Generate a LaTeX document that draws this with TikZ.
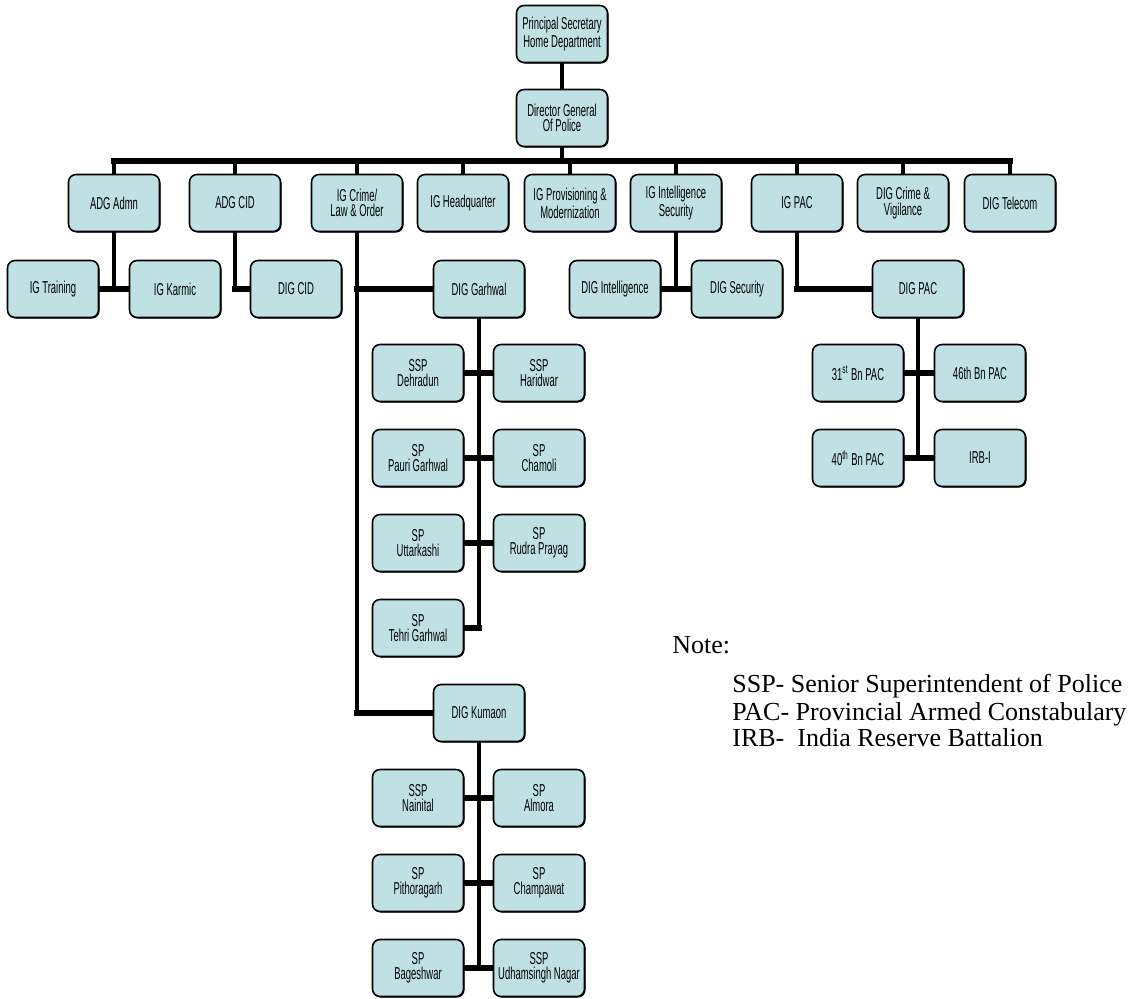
\documentclass[tikz,border=0pt]{standalone}
\usepackage{fontspec}
\setmainfont{Liberation Serif}
\newfontfamily\boxfont[FakeStretch=0.55]{Liberation Sans}
\usetikzlibrary{backgrounds,shadows}
\definecolor{boxfill}{RGB}{191,225,228}
\begin{document}
\begin{tikzpicture}[x=0.02cm,y=-0.02cm]
	\tikzset{b/.style={draw=black,line width=0.9pt,fill=boxfill,rounded corners=1.5mm,minimum width=1.82cm,minimum height=1.14cm,inner sep=1pt,align=center,font={\boxfont\fontsize{9.8}{8.6}\selectfont},drop shadow={shadow xshift=0.6pt,shadow yshift=-0.6pt,fill=black,opacity=1}},
		hl/.style={line width=3.8pt,line cap=rect},
		vl/.style={line width=2.4pt,line cap=rect},
		note/.style={anchor=base west,inner sep=0pt,font={\fontsize{14.8}{16}\selectfont}}}
	\useasboundingbox(0,0)rectangle(1142,998);
	% top of the chart
	\path(562,34)node[b](ps){Principal Secretary\\Home Department}
		(562,118)node[b](dg){Director General\\Of Police};
	\coordinate(bar)at(562,161);
	% first row
	\path(114,203)node[b](adgadmn){ADG Admn}
		(235,203)node[b](adgcid){ADG CID}
		(357,203)node[b](igcrime){IG Crime/\\Law \& Order}
		(463,203)node[b](ighq){IG Headquarter}
		(570,203)node[b](igprov){IG Provisioning \&\\Modernization}
		(676,203)node[b](igint){IG Intelligence\\Security}
		(797,203)node[b](igpac){IG PAC}
		(903,203)node[b](digcv){DIG Crime \&\\Vigilance}
		(1010,203)node[b](digtel){DIG Telecom};
	% second row
	\path(53,289)node[b](igtrain){IG Training}
		(175,289)node[b](igkarmic){IG Karmic}
		(296,289)node[b](digcid){DIG CID}
		(479,289)node[b](diggar){DIG Garhwal}
		(615,289)node[b](digint){DIG Intelligence}
		(737,289)node[b](digsec){DIG Security}
		(918,289)node[b](digpac){DIG PAC};
	% Garhwal districts
	\path(418,373)node[b](dehra){SSP\\Dehradun}
		(539,373)node[b](hari){SSP\\Haridwar}
		(418,458)node[b](pauri){SP\\Pauri Garhwal}
		(539,458)node[b](chamoli){SP\\Chamoli}
		(418,543)node[b](uttar){SP\\Uttarkashi}
		(539,543)node[b](rudra){SP\\Rudra Prayag}
		(418,628)node[b](tehri){SP\\Tehri Garhwal};
	% Kumaon districts
	\path(479,713)node[b](digkum){DIG Kumaon}
		(418,798)node[b](nain){SSP\\Nainital}
		(539,798)node[b](almora){SP\\Almora}
		(418,883)node[b](pith){SP\\Pithoragarh}
		(539,883)node[b](champ){SP\\Champawat}
		(418,968)node[b](bag){SP\\Bageshwar}
		(539,968)node[b](udh){SSP\\Udhamsingh Nagar};
	% PAC battalions
	\path(858,373)node[b](bn31){31\textsuperscript{st} Bn PAC}
		(980,373)node[b](bn46){46th Bn PAC}
		(858,458)node[b](bn40){40\textsuperscript{th} Bn PAC}
		(980,458)node[b](irb){IRB-I};
	% note
	\path(672,653)node[note](nt){Note:}
		(732,692)node[note](n1){SSP- Senior Superintendent of Police}
		(732,720)node[note](n2){PAC- Provincial Armed Constabulary}
		(732,746)node[note](n3){IRB-\ \ India Reserve Battalion};
	\begin{pgfonlayer}{background}
		\draw[vl](ps)--(dg);
		\draw[vl](dg.south)--(dg.south|-bar);
		\draw[hl](adgadmn.north|-bar)--(digtel.north|-bar);
		\foreach \x in {adgadmn,adgcid,igcrime,ighq,igprov,igint,igpac,digcv,digtel}
		\draw[vl](\x.north)--(\x.north|-bar);
		\foreach \x/\y in {
			igtrain/igkarmic,digint/digsec,
			dehra/hari,pauri/chamoli,uttar/rudra,
			nain/almora,pith/champ,bag/udh,
			bn31/bn46,bn40/irb}
		\draw[hl](\x.east)--(\y.west);
		\draw[vl](adgadmn.south)--(adgadmn.south|-igtrain.east);
		\draw[vl](igint.south)--(igint.south|-digint.east);
		\draw[vl](adgcid.south)--(adgcid.south|-digcid.west);
		\draw[hl](adgcid.south|-digcid.west)--(digcid.west);
		\draw[vl](igpac.south)--(igpac.south|-digpac.west);
		\draw[hl](igpac.south|-digpac.west)--(digpac.west);
		\draw[vl](igcrime.south)--(igcrime.south|-digkum.west);
		\draw[hl](igcrime.south|-diggar.west)--(diggar.west);
		\draw[hl](igcrime.south|-digkum.west)--(digkum.west);
		\draw[vl](diggar.south)--(diggar.south|-tehri.east);
		\draw[hl](tehri.east)--(diggar.south|-tehri.east);
		\draw[vl](digkum.south)--(digkum.south|-bag.east);
		\draw[vl](digpac.south)--(digpac.south|-bn40.east);
	\end{pgfonlayer}
\end{tikzpicture}
\end{document}
